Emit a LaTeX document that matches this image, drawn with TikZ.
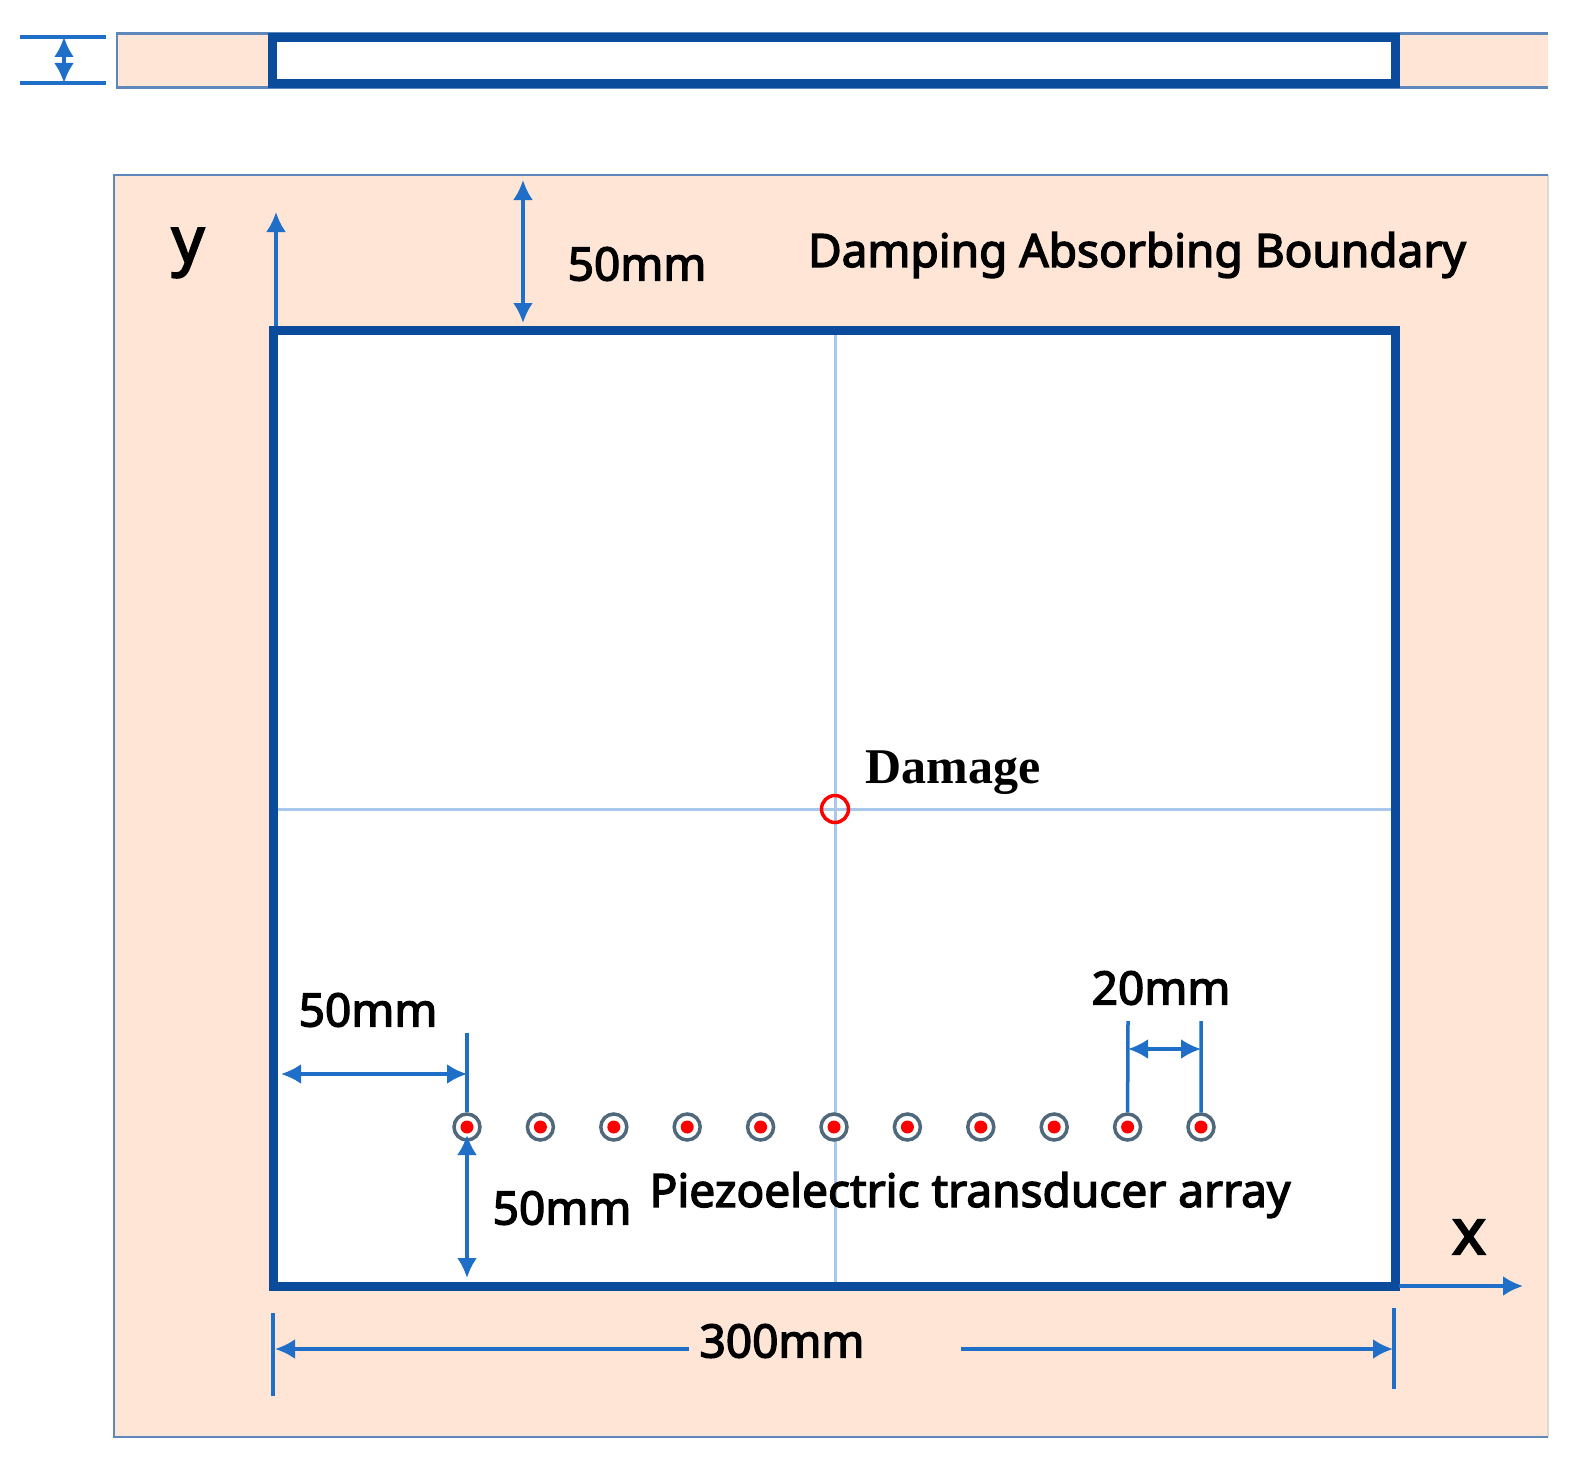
\documentclass[tikz,border=0pt]{standalone}
\usepackage{fontspec}
\setmainfont{Noto Sans}
\newfontfamily\labelfont[FakeBold=3]{Noto Sans}
\newfontfamily\axisfont[FakeBold=3]{Noto Sans}
\newfontfamily\damagefont{Liberation Serif}
\usetikzlibrary{arrows.meta}
\definecolor{PanelColor}{HTML}{FEE5D6}
\definecolor{EdgeColor}{HTML}{5E88BC}
\definecolor{SideColor}{HTML}{DDD8D6}
\definecolor{FrameColor}{HTML}{0A4B9C}
\definecolor{DimColor}{HTML}{1F6FC8}
\definecolor{CrossColor}{HTML}{A9C8EC}
\definecolor{RingColor}{HTML}{50687C}
\tikzstyle{panel}=[fill=PanelColor, draw=none]
\tikzstyle{panel_edge}=[draw=EdgeColor, line width=2.5pt]
\tikzstyle{side_edge}=[draw=SideColor, line width=2pt]
\tikzstyle{plate}=[fill=white, draw=none]
\tikzstyle{frame}=[draw=FrameColor, line width=9pt, line join=miter]
\tikzstyle{cross_line}=[draw=CrossColor, line width=3pt]
\tikzstyle{dim_line}=[draw=DimColor, line width=3.5pt]
\tikzstyle{dim_arrow}=[dim_line, {Latex[length=20pt,width=20pt]}-{Latex[length=20pt,width=20pt]}]
\tikzstyle{axis_arrow}=[dim_line, -{Latex[length=20pt,width=20pt]}]
\tikzstyle{transducer}=[circle, draw=RingColor, line width=3.5pt, fill=white, minimum size=26pt, inner sep=0pt]
\tikzstyle{red_dot}=[circle, fill=red, minimum size=13pt, inner sep=0pt]
\tikzstyle{label_text}=[font=\labelfont\fontsize{46}{52}\selectfont, inner sep=0pt]
\tikzstyle{axis_text}=[font=\axisfont\fontsize{64}{70}\selectfont, inner sep=0pt]

\begin{document}
\begin{tikzpicture}[x=1pt, y=-1pt]
    \useasboundingbox (0,0) rectangle (1581,1458);

    % top strip
    \fill[panel] (117,33.5) rectangle (1548,87.5);
    \draw[panel_edge] (1548,33.5) -- (117,33.5) -- (117,87.5) -- (1548,87.5);
    \fill[plate] (272,37.5) rectangle (1395,83.5);
    \draw[frame] (272,37.5) rectangle (1395,83.5);
    \coordinate (ta) at (20,37);
    \coordinate (tb) at (106,37);
    \coordinate (tc) at (20,83);
    \coordinate (td) at (106,83);
    \coordinate (te) at (64,37);
    \coordinate (tf) at (64,83);
    \draw[dim_line] (ta) -- (tb);
    \draw[dim_line] (tc) -- (td);
    \draw[dim_arrow] (te) -- (tf);

    % main panel
    \fill[panel] (114,175) rectangle (1548,1437);
    \draw[side_edge] (1548,175) -- (1548,1437);
    \draw[panel_edge] (1548,175) -- (114,175) -- (114,1437) -- (1548,1437);
    \fill[plate] (273,330) rectangle (1395,1286);

    \coordinate (north) at (835,330);
    \coordinate (south) at (835,1286);
    \coordinate (west) at (273,809);
    \coordinate (east) at (1395,809);
    \draw[cross_line] (north) -- (south);
    \draw[cross_line] (west) -- (east);
    \draw[frame] (273,330) rectangle (1395,1286);
    \node at (835,809) (damage) [circle, draw=red, line width=3.5pt, minimum size=27pt, inner sep=0pt] {};

    % axes
    \coordinate (origin_y) at (276,326);
    \coordinate (tip_y) at (276,212);
    \coordinate (origin_x) at (1399,1286);
    \coordinate (tip_x) at (1523,1286);
    \draw[axis_arrow] (origin_y) -- (tip_y);
    \draw[axis_arrow] (origin_x) -- (tip_x);

    % transducers
    \foreach \la in {0,...,10} {
        \node at (467 + 73.4 * \la, 1127) (T\la) [transducer] {};
        \node at (T\la) (D\la) [red_dot] {};
    }

    % dimensions
    \coordinate (up_a) at (523,180);
    \coordinate (up_b) at (523,323);
    \draw[dim_arrow] (up_a) -- (up_b);

    \coordinate (left_a) at (281,1074);
    \coordinate (left_b) at (467,1074);
    \coordinate (left_t) at (467,1033);
    \draw[dim_line] (left_t) -- (T0.north);
    \draw[dim_arrow] (left_a) -- (left_b);

    \coordinate (low_b) at (467,1278);
    \draw[dim_arrow, shorten <=8pt] (T0.center) -- (low_b);

    \coordinate (pitch_a) at (1128,1021);
    \coordinate (pitch_b) at (1201,1021);
    \coordinate (pitch_c) at (1128,1049);
    \coordinate (pitch_d) at (1201,1049);
    \draw[dim_line] (pitch_a) -- (T9.north);
    \draw[dim_line] (pitch_b) -- (T10.north);
    \draw[dim_arrow] (pitch_c) -- (pitch_d);

    \coordinate (w_a) at (273,1313);
    \coordinate (w_b) at (273,1396);
    \coordinate (w_c) at (1394,1308);
    \coordinate (w_d) at (1394,1389);
    \coordinate (w_e) at (275,1349);
    \coordinate (w_f) at (689,1349);
    \coordinate (w_g) at (961,1349);
    \coordinate (w_h) at (1393,1349);
    \draw[dim_line] (w_a) -- (w_b);
    \draw[dim_line] (w_c) -- (w_d);
    \draw[dim_line, {Latex[length=20pt,width=20pt]}-] (w_e) -- (w_f);
    \draw[dim_line, -{Latex[length=20pt,width=20pt]}] (w_g) -- (w_h);

    % labels
    \node at (188,253) (lab_y) [axis_text] {y};
    \node at (1469,1237) (lab_x) [axis_text] {x};
    \node at (637,264) (lab_top) [label_text] {50mm};
    \node at (1137,255) (lab_abs) [label_text] {Damping Absorbing Boundary};
    \node at (953,773) (lab_dmg) [inner sep=0pt, font=\damagefont\bfseries\fontsize{50}{55}\selectfont] {Damage};
    \node at (1161,988) (lab_pitch) [label_text] {20mm};
    \node at (368,1010) (lab_left) [label_text] {50mm};
    \node at (970,1195) (lab_arr) [label_text] {Piezoelectric transducer array};
    \node at (562,1208) (lab_low) [label_text] {50mm};
    \node at (782,1341) (lab_w) [label_text] {300mm};
\end{tikzpicture}
\end{document}
